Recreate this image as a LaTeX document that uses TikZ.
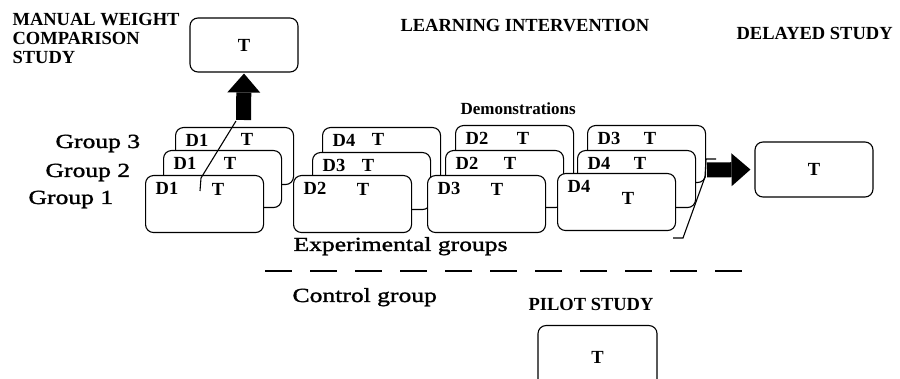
\documentclass[tikz,border=0pt]{standalone}
\usepackage{fontspec}
\setmainfont{Liberation Serif}
\newfontfamily\widefont{Liberation Serif}[FakeStretch=1.28, FakeBold=1.5]
\usetikzlibrary{arrows.meta}

\begin{document}
\begin{tikzpicture}[x=1pt, y=-1pt, line width=1.1pt,
  box/.style={draw, rounded corners=8pt, fill=white, inner sep=0pt},
  lbl/.style={font=\bfseries\fontsize{18.5}{19}\selectfont, inner sep=0pt},
  head/.style={lbl, anchor=base west},
  plain/.style={font=\widefont\fontsize{20}{22}\selectfont, inner sep=0pt, anchor=base west},
  fat/.style={line width=15pt, -{Triangle[length=19pt, width=33pt, line width=0pt]}}]
  \useasboundingbox (0,0) rectangle (900,379);
  \clip (0,0) rectangle (900,379);
  % study headings
  \node[lbl, align=left, anchor=north west] (mwtitle) at (12,13) {MANUAL WEIGHT\\COMPARISON\\STUDY};
  \node[head] (lititle) at (400,32) {LEARNING INTERVENTION};
  \node[head] (dstitle) at (736,40) {DELAYED STUDY};
  \node[head, font=\bfseries\fontsize{17}{18}\selectfont] (demos) at (460,115) {Demonstrations};
  \node[head] (pstitle) at (528,311) {PILOT STUDY};
  % test boxes of the three studies
  \node[box, lbl, minimum width=108pt, minimum height=54pt] (mwbox) at (244,45) {T};
  \node[box, lbl, minimum width=118pt, minimum height=55pt] (dsbox) at (814,169.5) {T};
  \node[box, lbl, minimum width=119pt, minimum height=64pt, anchor=north] (psbox) at (597.5,325) {T};
  % group names
  \node[plain] (grp3) at (55,148) {Group 3};
  \node[plain] (grp2) at (45,177) {Group 2};
  \node[plain] (grp1) at (28,204) {Group 1};
  % demonstration stacks: stack/group/x/y/demo/T offset x/T offset y
  \foreach \s/\g/\x/\y/\d/\tx/\ty in {
      1/3/175/127/D1/72/12, 1/2/163/150/D1/67/13, 1/1/145/175/D1/73/14,
      2/3/322/127/D4/56/12, 2/2/312/152/D3/56/13, 2/1/293/175/D2/70/14,
      3/3/455/125/D2/68/13, 3/2/445/150/D2/65/13, 3/1/427/175/D3/70/14,
      4/3/587/125/D3/63/13, 4/2/577/150/D4/63/13, 4/1/557/173/D4/71/25} {
    \node[box, anchor=north west, minimum width=118pt, minimum height=57pt] (b\s\g) at (\x,\y) {};
    \node[lbl] (d\s\g) at (\x+22,\y+13) {\d};
    \node[lbl] (t\s\g) at (\x+\tx,\y+\ty) {T};
  }
  % experimental / control split
  \node[plain] (expgrp) at (293,251) {Experimental groups};
  \draw[dash pattern=on 27pt off 18pt] (265,271) -- (742,271);
  \node[plain] (ctlgrp) at (292,302) {Control group};
  % leader lines to the big arrows
  \coordinate (mwtail) at (236,121);
  \coordinate (mwfoot) at (200,191);
  \draw (mwtail) -- (201,178) -- (mwfoot);
  \coordinate (dsfoot) at (673,238);
  \coordinate (dshook) at (716,159);
  \draw (dsfoot) -- (683,238) -- (705,177) -- (706,159) -- (dshook);
  % big arrows
  \coordinate (mwbase) at (243.5,120);
  \draw[fat, shorten >=1pt] (mwbase) -- (mwbox.south);
  \coordinate (dsbase) at (707,170);
  \draw[fat, shorten >=4pt] (dsbase) -- (dsbox.west);
\end{tikzpicture}
\end{document}
